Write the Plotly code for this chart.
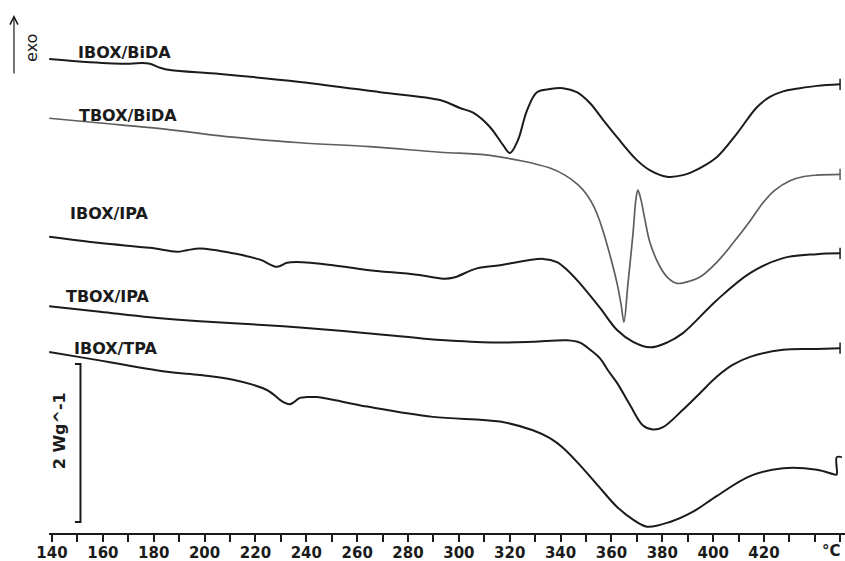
import plotly.graph_objects as go

# DSC heat-flow curves (stacked, W/g with vertical offsets), temperature in °C
T_IBOX_BIDA = [138.9, 154.9, 170.7, 175.4, 178.5, 182.5, 186.4, 206.1, 237.5, 269.0,
               292.6, 300.4, 305.6, 312.2, 317.4, 320.1, 323.2, 326.8, 330.7, 335.8,
               340.9, 346.4, 351.6, 356.7, 362.2, 370.0, 375.2, 381.8, 388.1, 394.8,
               401.5, 409.4, 417.2, 422.3, 427.5, 434.1, 440.8, 449.9]
HF_IBOX_BIDA = [6.00, 5.96, 5.94, 5.95, 5.94, 5.89, 5.86, 5.81, 5.71, 5.58,
                5.48, 5.38, 5.32, 5.14, 4.91, 4.81, 4.97, 5.35, 5.58, 5.62,
                5.63, 5.58, 5.44, 5.23, 5.01, 4.72, 4.59, 4.51, 4.53, 4.62,
                4.76, 5.06, 5.39, 5.52, 5.59, 5.63, 5.66, 5.68]

T_TBOX_BIDA = [138.9, 158.9, 185.2, 211.2, 237.5, 265.0, 292.6, 312.2, 335.8, 341.7,
               346.8, 350.4, 353.1, 355.5, 359.4, 362.2, 363.8, 364.9, 366.5, 368.5,
               369.6, 370.4, 371.6, 373.2, 375.2, 379.1, 382.2, 385.8, 390.9, 394.8,
               401.5, 407.8, 414.5, 419.6, 424.3, 430.2, 435.3, 440.8, 449.9]
HF_TBOX_BIDA = [5.25, 5.19, 5.11, 5.01, 4.94, 4.89, 4.82, 4.78, 4.62, 4.53,
                4.41, 4.28, 4.13, 3.94, 3.52, 3.16, 2.89, 2.67, 3.16, 3.80,
                4.22, 4.34, 4.22, 3.96, 3.67, 3.37, 3.23, 3.16, 3.19, 3.24,
                3.43, 3.67, 3.95, 4.18, 4.34, 4.46, 4.51, 4.53, 4.54]

T_IBOX_IPA = [138.9, 158.9, 178.5, 189.2, 193.1, 198.2, 211.2, 221.8, 228.5, 232.4,
              236.3, 250.5, 263.9, 283.5, 293.8, 297.7, 307.1, 316.2, 333.1, 338.6,
              342.9, 347.6, 355.5, 362.2, 368.5, 375.2, 381.8, 388.1, 401.5, 414.5,
              427.5, 440.8, 449.9]
HF_IBOX_IPA = [3.75, 3.67, 3.61, 3.56, 3.58, 3.60, 3.54, 3.46, 3.37, 3.42,
               3.43, 3.39, 3.33, 3.27, 3.22, 3.23, 3.35, 3.39, 3.47, 3.43,
               3.32, 3.16, 2.85, 2.57, 2.42, 2.35, 2.41, 2.53, 2.95, 3.29,
               3.48, 3.53, 3.54]

T_TBOX_IPA = [138.9, 158.9, 178.5, 198.2, 224.5, 237.5, 263.9, 289.8, 299.3, 316.2,
              329.1, 342.5, 347.6, 351.6, 355.5, 358.6, 362.2, 367.3, 372.4, 376.3,
              380.3, 388.1, 394.8, 401.5, 407.8, 414.5, 427.5, 440.8, 449.9]
HF_TBOX_IPA = [2.87, 2.80, 2.73, 2.68, 2.63, 2.60, 2.53, 2.45, 2.43, 2.41,
               2.42, 2.44, 2.41, 2.32, 2.21, 2.06, 1.90, 1.62, 1.36, 1.31,
               1.34, 1.56, 1.77, 1.98, 2.13, 2.23, 2.32, 2.33, 2.34]

T_IBOX_TPA = [138.9, 152.2, 185.2, 198.2, 211.2, 224.5, 230.8, 233.6, 237.5, 240.3,
              244.2, 263.9, 289.8, 316.2, 329.1, 335.8, 340.9, 347.6, 354.7, 362.2,
              368.5, 374.0, 383.0, 392.1, 401.5, 414.5, 427.5, 440.8, 447.9, 448.6,
              448.6, 450.6]
HF_IBOX_TPA = [2.29, 2.22, 2.04, 2.00, 1.94, 1.81, 1.66, 1.63, 1.71, 1.72,
               1.72, 1.60, 1.47, 1.41, 1.30, 1.20, 1.08, 0.86, 0.60, 0.33,
               0.17, 0.08, 0.14, 0.27, 0.47, 0.72, 0.82, 0.80, 0.74, 0.74,
               0.96, 0.96]

SERIES_NAMES = ["IBOX/BiDA", "TBOX/BiDA", "IBOX/IPA", "TBOX/IPA", "IBOX/TPA"]

TICK_VALUES = list(range(140, 451, 10))
TICK_LABELS = [f"<b>{t}</b>" if (t % 20 == 0 and t <= 420) else "" for t in TICK_VALUES]

SCALE_BAR_WG = 2.0     # height of the scale bar in W/g
SCALE_BAR_BASE = 0.14  # heat-flow level of the bar's lower end

BLACK = "#1b1b1b"
GREY = "#5e5e5e"
FONT = "DejaVu Sans"

series = [
    (T_IBOX_BIDA, HF_IBOX_BIDA, BLACK, 2.0, True, 149.6, 6.08),
    (T_TBOX_BIDA, HF_TBOX_BIDA, GREY, 1.7, True, 150.0, 5.29),
    (T_IBOX_IPA, HF_IBOX_IPA, BLACK, 2.0, True, 146.1, 4.04),
    (T_TBOX_IPA, HF_TBOX_IPA, BLACK, 2.0, True, 144.9, 3.00),
    (T_IBOX_TPA, HF_IBOX_TPA, BLACK, 2.0, False, 147.7, 2.34),
]

fig = go.Figure()
annotations = []
for name, (tx, hf, color, width, end_mark, lx, ly) in zip(SERIES_NAMES, series):
    fig.add_trace(go.Scatter(
        x=tx, y=hf, mode="lines", name=name,
        line=dict(color=color, width=width, shape="spline", smoothing=1.0),
        hoverinfo="skip",
    ))
    if end_mark:
        fig.add_trace(go.Scatter(
            x=[tx[-1]], y=[hf[-1]], mode="markers",
            marker=dict(symbol="line-ns", size=8,
                        line=dict(color=color, width=1.5)),
            hoverinfo="skip",
        ))
    annotations.append(dict(
        x=lx, y=ly, xref="x", yref="y", text=f"<b>{name}</b>", showarrow=False,
        xanchor="left", yanchor="middle",
        font=dict(family=FONT, size=16, color="#1b1b1b"),
    ))

# scale bar (bracket)
sb_top = SCALE_BAR_BASE + SCALE_BAR_WG
fig.add_trace(go.Scatter(
    x=[149.0, 151.2, 151.2, 149.0],
    y=[sb_top, sb_top, SCALE_BAR_BASE, SCALE_BAR_BASE],
    mode="lines", line=dict(color=BLACK, width=2), hoverinfo="skip",
))
annotations.append(dict(
    x=142.75, y=SCALE_BAR_BASE + SCALE_BAR_WG * 0.58, xref="x", yref="y",
    text="<b>2 Wg^-1</b>", showarrow=False, textangle=-90,
    xanchor="center", yanchor="middle",
    font=dict(family=FONT, size=16, color="#1b1b1b"),
))

# exo direction arrow
annotations.append(dict(
    x=-0.044, y=0.972, xref="paper", yref="paper", text="",
    showarrow=True, ax=0, ay=60, arrowhead=5, arrowsize=1.3,
    arrowwidth=1.2, arrowcolor=BLACK,
))
annotations.append(dict(
    x=-0.0214, y=0.91, xref="paper", yref="paper", text="exo",
    showarrow=False, textangle=-90, xanchor="center", yanchor="middle",
    font=dict(family=FONT, size=16, color="#1b1b1b"),
))

# unit label at the end of the temperature axis
annotations.append(dict(
    x=446.7, y=-0.034, xref="x", yref="paper", text="<b>°C</b>", showarrow=False,
    xanchor="center", yanchor="middle",
    font=dict(family=FONT, size=15, color="#1b1b1b"),
))

fig.update_layout(
    width=845, height=561,
    margin=dict(l=49, r=0, t=0, b=28),
    paper_bgcolor="white", plot_bgcolor="white",
    showlegend=False,
    annotations=annotations,
    xaxis=dict(
        range=[138.82, 451.84], showgrid=False, zeroline=False,
        showline=True, linecolor=BLACK, linewidth=2,
        ticks="outside", ticklen=7, tickwidth=2, tickcolor=BLACK,
        tickvals=TICK_VALUES, ticktext=TICK_LABELS,
        ticklabelstandoff=-2,
        tickfont=dict(family=FONT, size=15, color="#1b1b1b"),
        automargin=False,
    ),
    yaxis=dict(
        range=[0, 6.747], visible=False, automargin=False,
    ),
)

fig.write_html("out.html")
